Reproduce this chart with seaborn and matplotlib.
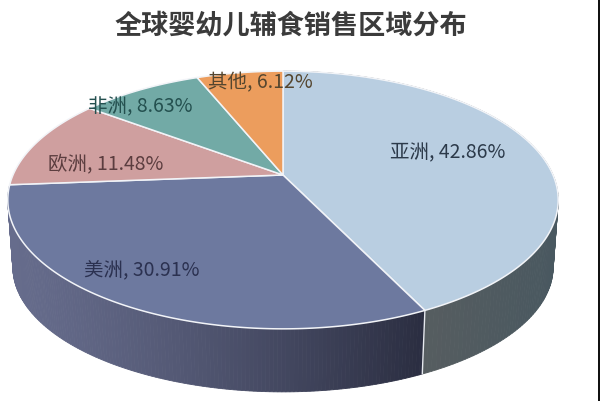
import numpy as np
import matplotlib
matplotlib.use("Agg")
import matplotlib.pyplot as plt
import seaborn as sns

title = "全球婴幼儿辅食销售区域分布"
regions = ["亚洲", "美洲", "欧洲", "非洲", "其他"]
shares = [42.86, 30.91, 11.48, 8.63, 6.12]

top_colors = sns.color_palette(["#b9cee1", "#6d799f", "#cf9f9f", "#72aaa6", "#ec9d5d"])
label_colors = ["#2c3a4a", "#2b3150", "#5b3d3f", "#24504f", "#55462f"]
label_xy = [(448, 153), (142, 271), (106, 165), (140, 107), (260, 83)]

sns.set_theme(style="white")
plt.rcParams["font.family"] = ["Noto Sans CJK SC", "DejaVu Sans"]

fig = plt.figure(figsize=(6, 4.02), dpi=100, facecolor="white")
ax = fig.add_axes([0, 0, 1, 1])
ax.set_xlim(0, 600)
ax.set_ylim(402, 0)
ax.axis("off")

K = 0.194
CX = 283
CY = 176


def project(theta, ax_x, ax_y, cy):
    X, Y = np.sin(theta), np.cos(theta)
    w = 1 + K * Y
    return CX + ax_x * X / w, cy - ax_y * Y / w


def top_pt(theta):
    return project(theta, 270, 124, CY)


def bot_pt(theta):
    return project(theta, 265, 120, 244)


edges = np.radians(np.concatenate([[0], np.cumsum(shares)]) / sum(shares) * 360)


def side_color(x, theta_idx):
    if theta_idx == 0:
        a, b = np.array([0x56, 0x5d, 0x60]), np.array([0x49, 0x58, 0x60])
        t = np.clip((x - 425) / 130, 0, 1)
    else:
        a, b = np.array([0x66, 0x6c, 0x8c]), np.array([0x2a, 0x2d, 0x40])
        t = np.clip((x - 10) / 415, 0, 1) ** 1.3
    return tuple((a + (b - a) * t) / 255)


# side wall, only the two front wedges show it
for idx in (0, 1):
    th = np.linspace(edges[idx], edges[idx + 1], 160)
    for t0, t1 in zip(th[:-1], th[1:]):
        x0, y0 = top_pt(t0)
        x1, y1 = top_pt(t1)
        x2, y2 = bot_pt(t1)
        x3, y3 = bot_pt(t0)
        c = side_color((x0 + x1 + x2 + x3) / 4, idx)
        ax.fill([x0, x1, x2, x3], [y0, y1, y2, y3], color=c, lw=0.6, zorder=2)

# seam between the two visible side walls
sx0, sy0 = top_pt(edges[1])
sx1, sy1 = bot_pt(edges[1])
ax.plot([sx0, sx1], [sy0, sy1], color="#e6e9ee", lw=1.0, zorder=3)

# top face
for i, c in enumerate(top_colors):
    th = np.linspace(edges[i], edges[i + 1], 200)
    x, y = top_pt(th)
    ax.fill(np.r_[CX, x], np.r_[CY, y], facecolor=c, edgecolor="#f2f4f8",
            lw=1.1, joinstyle="round", zorder=4)

for name, v, xy, c in zip(regions, shares, label_xy, label_colors):
    ax.text(xy[0], xy[1], f"{name}, {v:.2f}%", ha="center", va="center",
            fontsize=14, color=c, zorder=6)

ax.text(291, 25, title, ha="center", va="center", fontsize=19.5,
        fontweight="bold", color="#3b3b3b", zorder=6)

# dark sliver along the right edge of the screenshot
ax.axvspan(597.6, 600, color="#111111", lw=0, zorder=7)

fig.savefig("out.png", dpi=100, facecolor="white")
